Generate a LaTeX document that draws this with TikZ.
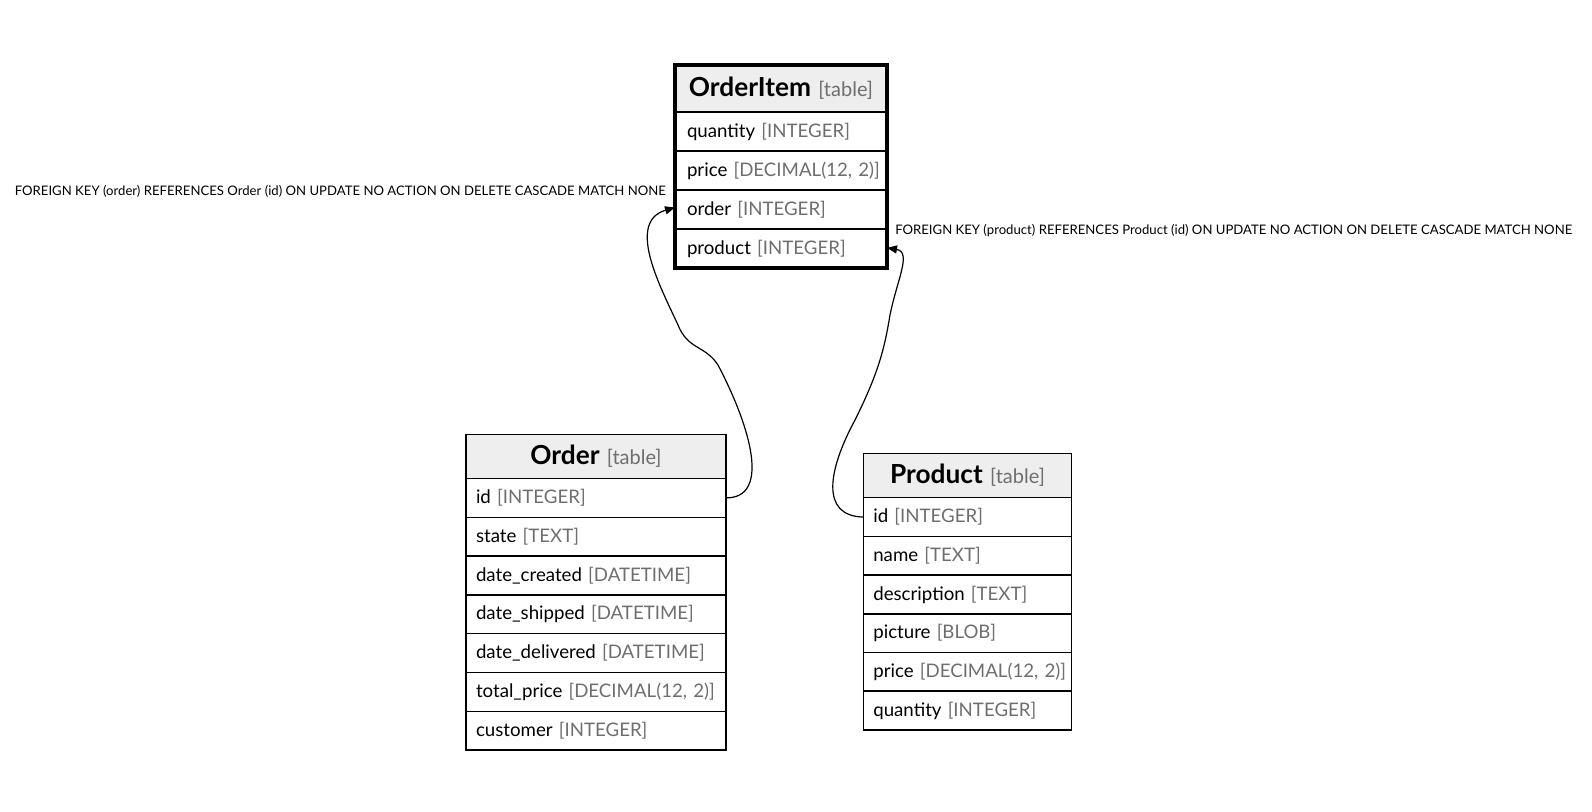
\documentclass[tikz,border=0pt]{standalone}
\usepackage{fontspec}
\setmainfont{Lato}
\usetikzlibrary{arrows.meta,fit}
\definecolor{hdrfill}{RGB}{238,238,238}
\definecolor{txtgray}{RGB}{110,110,110}
\newcommand\rowfnt{\fontsize{14}{16}\selectfont}
\newcommand\hdrfnt{\fontsize{19.7}{22}\selectfont\bfseries}
\newcommand\lblfnt{\fontsize{9.85}{12}\selectfont}
\newcommand\rw[2]{\mbox{#1 {\color{txtgray}[#2]}}}
\newcommand\hd[1]{\raisebox{2pt}{{\hdrfnt #1}\hspace{5.5pt}{\fontsize{15}{17}\selectfont\color{txtgray}[table]}}}
\begin{document}
\begin{tikzpicture}[x=0.75pt,y=-0.75pt,
  cell/.style={draw, anchor=north west, inner ysep=0pt, outer sep=0pt, line width=1.1pt},
  hdr/.style={cell, fill=hdrfill, inner xsep=0pt, align=center},
  rowc/.style={cell, align=left, font=\rowfnt},
  oih/.style={hdr, minimum width=159pt, minimum height=35.25pt},
  oir/.style={rowc, inner xsep=9pt, text width=141pt, minimum height=29.25pt},
  orh/.style={hdr, minimum width=195pt, minimum height=33pt},
  orr/.style={rowc, inner xsep=7.5pt, text width=180pt, minimum height=29.1pt},
  prh/.style={hdr, minimum width=156.3pt, minimum height=33.3pt},
  prr/.style={rowc, inner xsep=7.5pt, text width=141.3pt, minimum height=29.025pt},
  fk/.style={line width=0.9pt, -{Triangle[length=7.5pt,width=6pt]}},
  lbl/.style={inner sep=0pt, font=\lblfnt}]
\useasboundingbox (0,0) rectangle (1592,812);
% OrderItem
\node[oih] (oi-h) at (675,65) {\hd{OrderItem}};
\node[oir] (oi-quantity) at (675,112) {\rw{quantity}{INTEGER}};
\node[oir] (oi-price) at (675,151) {\rw{price}{DECIMAL(12, 2)}};
\node[oir] (oi-order) at (675,190) {\rw{order}{INTEGER}};
\node[oir] (oi-product) at (675,229) {\rw{product}{INTEGER}};
\node[fit=(oi-h)(oi-product), draw, line width=3pt, inner sep=0pt, outer sep=0pt] (oi-frame) {};
% Order
\node[orh] (o-h) at (466,434.5) {\hd{Order}};
\node[orr] (o-id) at (466,478.5) {\rw{id}{INTEGER}};
\node[orr] (o-state) at (466,517.3) {\rw{state}{TEXT}};
\node[orr] (o-created) at (466,556.1) {\rw{date\_created}{DATETIME}};
\node[orr] (o-shipped) at (466,594.9) {\rw{date\_shipped}{DATETIME}};
\node[orr] (o-delivered) at (466,633.7) {\rw{date\_delivered}{DATETIME}};
\node[orr] (o-total) at (466,672.5) {\rw{total\_price}{DECIMAL(12, 2)}};
\node[orr] (o-customer) at (466,711.3) {\rw{customer}{INTEGER}};
% Product
\node[prh] (p-h) at (863.3,453.3) {\hd{Product}};
\node[prr] (p-id) at (863.3,497.7) {\rw{id}{INTEGER}};
\node[prr] (p-name) at (863.3,536.4) {\rw{name}{TEXT}};
\node[prr] (p-desc) at (863.3,575.1) {\rw{description}{TEXT}};
\node[prr] (p-picture) at (863.3,613.8) {\rw{picture}{BLOB}};
\node[prr] (p-price) at (863.3,652.5) {\rw{price}{DECIMAL(12, 2)}};
\node[prr] (p-quantity) at (863.3,691.2) {\rw{quantity}{INTEGER}};
% edges
\draw[fk] (o-id.east) .. controls (770,498) and (752,430) .. (718,365)
  .. controls (705,345) and (688,350) .. (678,325)
  .. controls (662,290) and (625,222) .. ([yshift=1.5pt]oi-order.west);
\draw[fk] (p-id.west) .. controls (820,516) and (828,470) .. (855,420)
  .. controls (880,370) and (885,345) .. (890,315)
  .. controls (897,280) and (912,252) .. ([yshift=0.5pt]oi-product.east);
% labels
\node[lbl, anchor=east] (lbl-order) at (666,191) {FOREIGN KEY (order) REFERENCES Order (id) ON UPDATE NO ACTION ON DELETE CASCADE MATCH NONE};
\node[lbl, anchor=west] (lbl-product) at (895,230.5) {FOREIGN KEY (product) REFERENCES Product (id) ON UPDATE NO ACTION ON DELETE CASCADE MATCH NONE};
\end{tikzpicture}
\end{document}
